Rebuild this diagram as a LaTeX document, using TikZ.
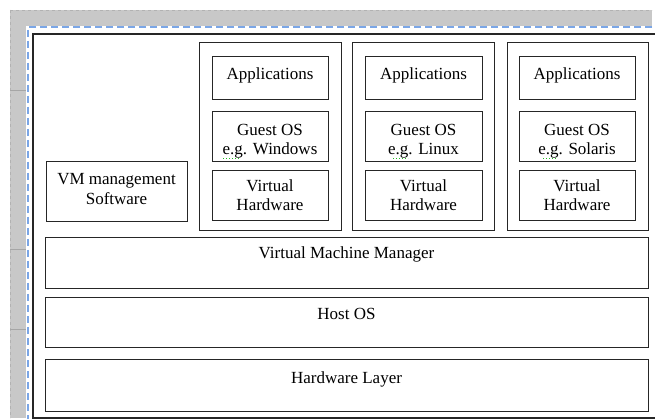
\documentclass[tikz,border=0pt]{standalone}
\usepackage{fontspec}
\setmainfont{Liberation Serif}
\definecolor{dashblue}{HTML}{7BA6E6}
\definecolor{framegray}{HTML}{C8C8C8}
\definecolor{checkgreen}{HTML}{22BB22}
\begin{document}
\begin{tikzpicture}[x=1pt,y=-1pt,
  box/.style={draw=black!85,line width=1.2pt,inner sep=0pt,anchor=north west},
  lbl/.style={anchor=base,inner sep=0pt,font=\fontsize{17}{20}\selectfont},
  spell/.style={checkgreen,line width=1pt,dash pattern=on 1pt off 2pt}]
\useasboundingbox (0,0) rectangle (655,419);
\clip (0,0) rectangle (655,419);
\fill[white] (0,0) rectangle (655,419);
% page frame
\fill[framegray] (10,10) rectangle (652,26);
\fill[framegray] (10,26) rectangle (26,418);
\draw[gray!60,line width=0.6pt,dash pattern=on 3pt off 3pt] (10,10.3) -- (652,10.3);
\draw[gray!60,line width=0.6pt,dash pattern=on 3pt off 3pt] (10.3,10) -- (10.3,418);
\foreach \yy in {90,249,329} \draw[gray!70,line width=0.6pt] (10,\yy) -- (26,\yy);
\draw[dashblue,line width=2pt,dash pattern=on 7pt off 4pt] (652,27.5) -- (27.5,27.5) -- (27.5,419);
% outer frame
\draw[draw=black!85,line width=1.2pt] (33,34) rectangle (680,418);
% VM containers
\node[box,minimum width=142pt,minimum height=188pt] (vm1) at (199,42) {};
\node[box,minimum width=142pt,minimum height=188pt] (vm2) at (352,42) {};
\node[box,minimum width=141pt,minimum height=188pt] (vm3) at (507,42) {};
% inner boxes
\node[box,minimum width=116pt,minimum height=43pt] (app1) at (212,56) {};
\node[box,minimum width=116pt,minimum height=50pt] (gos1) at (212,111) {};
\node[box,minimum width=116pt,minimum height=50pt] (vh1) at (212,170) {};
\node[box,minimum width=117pt,minimum height=43pt] (app2) at (365,56) {};
\node[box,minimum width=117pt,minimum height=50pt] (gos2) at (365,111) {};
\node[box,minimum width=117pt,minimum height=50pt] (vh2) at (365,170) {};
\node[box,minimum width=116pt,minimum height=43pt] (app3) at (519,56) {};
\node[box,minimum width=116pt,minimum height=50pt] (gos3) at (519,111) {};
\node[box,minimum width=116pt,minimum height=50pt] (vh3) at (519,170) {};
\node[box,minimum width=141pt,minimum height=60pt] (mgmt) at (46,161) {};
\node[box,minimum width=603pt,minimum height=51pt] (vmm) at (45,237) {};
\node[box,minimum width=603pt,minimum height=50pt] (host) at (45,297) {};
\node[box,minimum width=603pt,minimum height=52pt] (hw) at (45,359) {};
% labels
\node[lbl] (tapp1) at (270,80) {Applications};
\node[lbl] (tgos1a) at (270,136) {Guest OS};
\node[lbl] (tgos1b) at (270,155) {e.g. Windows};
\node[lbl] (tvh1a) at (270,192) {Virtual};
\node[lbl] (tvh1b) at (270,211) {Hardware};
\node[lbl] (tapp2) at (423.5,80) {Applications};
\node[lbl] (tgos2a) at (423.5,136) {Guest OS};
\node[lbl] (tgos2b) at (423.5,155) {e.g. Linux};
\node[lbl] (tvh2a) at (423.5,192) {Virtual};
\node[lbl] (tvh2b) at (423.5,211) {Hardware};
\node[lbl] (tapp3) at (577,80) {Applications};
\node[lbl] (tgos3a) at (577,136) {Guest OS};
\node[lbl] (tgos3b) at (577,155) {e.g. Solaris};
\node[lbl] (tvh3a) at (577,192) {Virtual};
\node[lbl] (tvh3b) at (577,211) {Hardware};
\node[lbl] (tmgmta) at (116.5,185) {VM management};
\node[lbl] (tmgmtb) at (116.5,205) {Software};
\node[lbl] (tvmm) at (346.5,259) {Virtual Machine Manager};
\node[lbl] (thost) at (346.5,319) {Host OS};
\node[lbl] (thw) at (346.5,383) {Hardware Layer};
% spell-check marks under "e.g."
\draw[spell] (223,159) -- (240,159);
\draw[spell] (393,159) -- (408,159);
\draw[spell] (543,159) -- (557,159);
\end{tikzpicture}
\end{document}
